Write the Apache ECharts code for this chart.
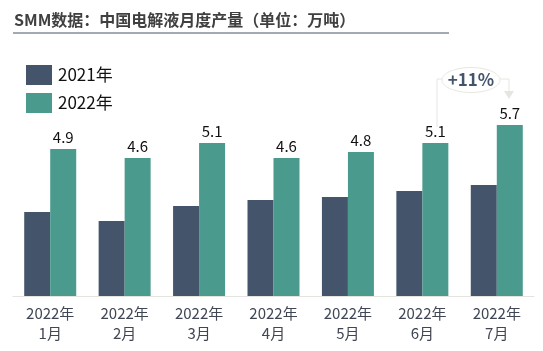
<!DOCTYPE html>
<html>
<head>
<meta charset="utf-8">
<script src="https://cdn.jsdelivr.net/npm/echarts@6/dist/echarts.min.js"></script>
<style>
  html, body { margin: 0; padding: 0; background: #fff; }
  #main { width: 543px; height: 351px; }
</style>
</head>
<body>
<div id="main"></div>
<script>
  // 数据
  const months = ['2022年\n1月', '2022年\n2月', '2022年\n3月', '2022年\n4月', '2022年\n5月', '2022年\n6月', '2022年\n7月'];
  const v2021 = [2.8, 2.5, 3.0, 3.2, 3.3, 3.5, 3.7];
  const v2022 = [4.9, 4.6, 5.1, 4.6, 4.8, 5.1, 5.7];
  const growthText = '+11%';

  const FONT = '"Noto Sans CJK SC", "Microsoft YaHei", sans-serif';
  const chart = echarts.init(document.getElementById('main'));

  const option = {
    animation: false,
    textStyle: { fontFamily: FONT },
    title: {
      text: 'SMM数据：中国电解液月度产量（单位：万吨）',
      left: 9,
      top: 7,
      textStyle: { fontSize: 16, fontWeight: 'bold', color: '#404040', fontFamily: FONT }
    },
    legend: {
      orient: 'vertical',
      left: 21,
      top: 60,
      itemWidth: 26,
      itemHeight: 20,
      itemGap: 8,
      icon: 'rect',
      textStyle: { fontSize: 17, color: '#111', fontFamily: FONT, padding: [0, 0, 0, 1] },
      data: ['2021年', '2022年']
    },
    grid: { left: 13, right: 9, top: 125, bottom: 55 },
    xAxis: {
      type: 'category',
      data: months,
      axisLine: { lineStyle: { color: '#e3e3df', width: 1 } },
      axisTick: { show: false },
      axisLabel: { fontSize: 15, color: '#404654', lineHeight: 20, margin: 7, fontFamily: FONT }
    },
    yAxis: {
      type: 'value',
      min: 0,
      max: 5.7,
      show: false,
      splitLine: { show: false }
    },
    series: [
      {
        name: '2021年',
        type: 'bar',
        data: v2021,
        barWidth: 26,
        barGap: '0%',
        itemStyle: { color: '#44546a' }
      },
      {
        name: '2022年',
        type: 'bar',
        data: v2022,
        barWidth: 26,
        barGap: '0%',
        itemStyle: { color: '#4a9a8e' },
        label: {
          show: true,
          position: 'top',
          distance: 4,
          fontSize: 15,
          color: '#111',
          fontFamily: FONT
        }
      }
    ],
    graphic: [
      // 标题下划线
      { type: 'line', shape: { x1: 13, y1: 33, x2: 449, y2: 33 }, style: { stroke: '#44546a', lineWidth: 1 } },
      // 增长率注释
      { type: 'ellipse', shape: { cx: 471, cy: 80, rx: 29, ry: 12.5 }, style: { fill: '#fff', stroke: '#e6e6e0', lineWidth: 1 } },
      { type: 'polyline', shape: { points: [[442, 79], [437, 79], [437, 127]] }, style: { fill: null, stroke: '#e6e6e0', lineWidth: 1 } },
      { type: 'polyline', shape: { points: [[500, 79], [509, 79], [509, 92]] }, style: { fill: null, stroke: '#e6e6e0', lineWidth: 1 } },
      { type: 'polygon', shape: { points: [[504, 91], [514, 91], [509, 99]] }, style: { fill: '#e6e6e0' } },
      {
        type: 'text',
        x: 471, y: 80,
        style: {
          text: growthText,
          fontSize: 17, fontWeight: 'bold', fill: '#44546a', fontFamily: FONT,
          align: 'center', verticalAlign: 'middle'
        }
      }
    ]
  };

  chart.setOption(option);
</script>
</body>
</html>
